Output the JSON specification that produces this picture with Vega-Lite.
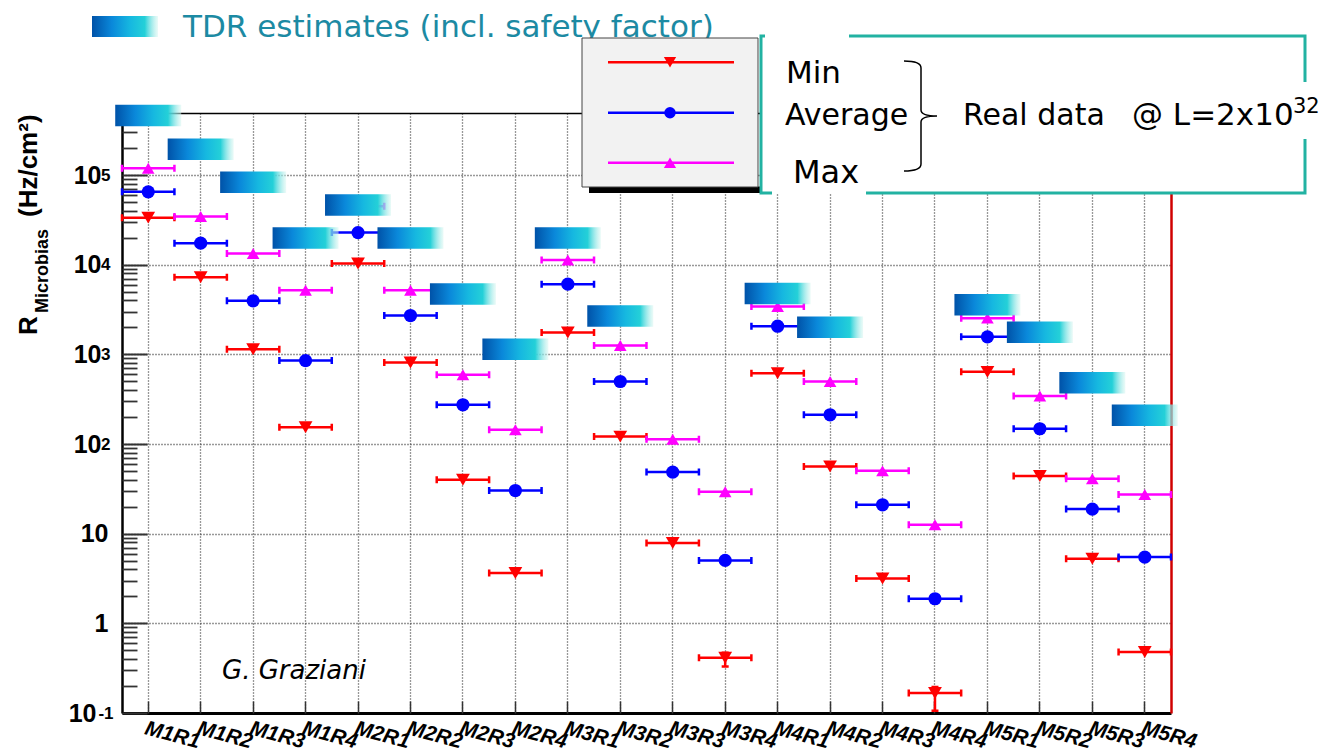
{
  "$schema": "https://vega.github.io/schema/vega-lite/v6.json",
  "usermeta": {"embedOptions": {"actions": false}},
  "width": 1049,
  "height": 600,
  "autosize": {"type": "none"},
  "padding": {"left": 122, "top": 113, "right": 151, "bottom": 43},
  "background": "white",
  "config": {
    "view": {"stroke": null},
    "axis": {
      "title": null,
      "labelFont": "Liberation Sans",
      "labelFontWeight": "bold",
      "labelColor": "black",
      "labelOverlap": false,
      "labelLimit": 0,
      "domainColor": "black",
      "tickColor": "#333333",
      "gridColor": "#333333",
      "gridDash": [1, 2],
      "gridWidth": 1.3,
      "zindex": 0
    }
  },
  "datasets": {
    "rates": [
      {"ch": "M1R1", "stat": "Min", "rate": 33500}, {"ch": "M1R1", "stat": "Average", "rate": 65000}, {"ch": "M1R1", "stat": "Max", "rate": 119000},
      {"ch": "M1R2", "stat": "Min", "rate": 7260}, {"ch": "M1R2", "stat": "Average", "rate": 17400}, {"ch": "M1R2", "stat": "Max", "rate": 34400},
      {"ch": "M1R3", "stat": "Min", "rate": 1140}, {"ch": "M1R3", "stat": "Average", "rate": 3950}, {"ch": "M1R3", "stat": "Max", "rate": 13300},
      {"ch": "M1R4", "stat": "Min", "rate": 154}, {"ch": "M1R4", "stat": "Average", "rate": 853}, {"ch": "M1R4", "stat": "Max", "rate": 5200},
      {"ch": "M2R1", "stat": "Min", "rate": 10300}, {"ch": "M2R1", "stat": "Average", "rate": 22800}, {"ch": "M2R1", "stat": "Max", "rate": 45000},
      {"ch": "M2R2", "stat": "Min", "rate": 811}, {"ch": "M2R2", "stat": "Average", "rate": 2710}, {"ch": "M2R2", "stat": "Max", "rate": 5200},
      {"ch": "M2R3", "stat": "Min", "rate": 40}, {"ch": "M2R3", "stat": "Average", "rate": 274}, {"ch": "M2R3", "stat": "Max", "rate": 591},
      {"ch": "M2R4", "stat": "Min", "rate": 3.64}, {"ch": "M2R4", "stat": "Average", "rate": 30.3}, {"ch": "M2R4", "stat": "Max", "rate": 144},
      {"ch": "M3R1", "stat": "Min", "rate": 1750}, {"ch": "M3R1", "stat": "Average", "rate": 6070}, {"ch": "M3R1", "stat": "Max", "rate": 11300},
      {"ch": "M3R2", "stat": "Min", "rate": 121}, {"ch": "M3R2", "stat": "Average", "rate": 498}, {"ch": "M3R2", "stat": "Max", "rate": 1253},
      {"ch": "M3R3", "stat": "Min", "rate": 7.86}, {"ch": "M3R3", "stat": "Average", "rate": 48.6}, {"ch": "M3R3", "stat": "Max", "rate": 113},
      {"ch": "M3R4", "stat": "Min", "rate": 0.414}, {"ch": "M3R4", "stat": "Average", "rate": 5.03}, {"ch": "M3R4", "stat": "Max", "rate": 29.3},
      {"ch": "M4R1", "stat": "Min", "rate": 617}, {"ch": "M4R1", "stat": "Average", "rate": 2060}, {"ch": "M4R1", "stat": "Max", "rate": 3410},
      {"ch": "M4R2", "stat": "Min", "rate": 56.1}, {"ch": "M4R2", "stat": "Average", "rate": 212}, {"ch": "M4R2", "stat": "Max", "rate": 498},
      {"ch": "M4R3", "stat": "Min", "rate": 3.16}, {"ch": "M4R3", "stat": "Average", "rate": 21.0}, {"ch": "M4R3", "stat": "Max", "rate": 50.2},
      {"ch": "M4R4", "stat": "Min", "rate": 0.167}, {"ch": "M4R4", "stat": "Average", "rate": 1.88}, {"ch": "M4R4", "stat": "Max", "rate": 12.6},
      {"ch": "M5R1", "stat": "Min", "rate": 638}, {"ch": "M5R1", "stat": "Average", "rate": 1567}, {"ch": "M5R1", "stat": "Max", "rate": 2535},
      {"ch": "M5R2", "stat": "Min", "rate": 43.9}, {"ch": "M5R2", "stat": "Average", "rate": 148}, {"ch": "M5R2", "stat": "Max", "rate": 344},
      {"ch": "M5R3", "stat": "Min", "rate": 5.25}, {"ch": "M5R3", "stat": "Average", "rate": 18.8}, {"ch": "M5R3", "stat": "Max", "rate": 40.9},
      {"ch": "M5R4", "stat": "Min", "rate": 0.479}, {"ch": "M5R4", "stat": "Average", "rate": 5.48}, {"ch": "M5R4", "stat": "Max", "rate": 27.4}
    ],
    "tdr": [
      {"ch": "M1R1", "tdr": 460000}, {"ch": "M1R2", "tdr": 194000}, {"ch": "M1R3", "tdr": 83000}, {"ch": "M1R4", "tdr": 19800},
      {"ch": "M2R1", "tdr": 46400}, {"ch": "M2R2", "tdr": 19800}, {"ch": "M2R3", "tdr": 4700}, {"ch": "M2R4", "tdr": 1140},
      {"ch": "M3R1", "tdr": 19800}, {"ch": "M3R2", "tdr": 2670},
      {"ch": "M4R1", "tdr": 4760}, {"ch": "M4R2", "tdr": 2010},
      {"ch": "M5R1", "tdr": 3580}, {"ch": "M5R2", "tdr": 1770}, {"ch": "M5R3", "tdr": 483}, {"ch": "M5R4", "tdr": 210}
    ],
    "spread": [
      {"ch": "M3R4", "lo": 0.33, "hi": 0.47},
      {"ch": "M4R4", "lo": 0.106, "hi": 0.195}
    ],
    "one": [{}]
  },
  "resolve": {"axis": {"x": "independent", "y": "independent"}},
  "layer": [
    {
      "data": {"name": "rates"},
      "mark": {"type": "point", "shape": "M-26.2,0H26.2M-26.2,-3.5V3.5M26.2,-3.5V3.5", "size": 4, "filled": false, "strokeWidth": 2.5, "opacity": 1},
      "encoding": {
        "x": {"field": "ch", "type": "nominal",
              "scale": {"type": "band", "paddingInner": 0, "paddingOuter": 0, "domain": ["M1R1","M1R2","M1R3","M1R4","M2R1","M2R2","M2R3","M2R4","M3R1","M3R2","M3R3","M3R4","M4R1","M4R2","M4R3","M4R4","M5R1","M5R2","M5R3","M5R4"]},
              "axis": {"orient": "bottom", "labelAngle": 15, "labelAlign": "left", "labelBaseline": "top", "labelFontSize": 21, "labelFontStyle": "italic", "labelPadding": 4, "labelDx": -4, "ticks": false, "domain": true, "domainWidth": 3, "grid": true}},
        "y": {"field": "rate", "type": "quantitative",
              "scale": {"type": "log", "domain": [0.1, 492000], "nice": false},
              "axis": {"orient": "left", "values": [0.1, 100, 1000, 10000, 100000], "labelExpr": "'10'", "labelFontSize": 25,
                       "labelPadding": {"condition": {"test": "datum.value < 1", "value": 26}, "value": 21},
                       "labelDy": 3, "labelBaseline": "middle", "ticks": false, "domain": true, "domainWidth": 2.5, "grid": true}},
        "color": {"field": "stat", "type": "nominal", "scale": {"domain": ["Min", "Average", "Max"], "range": ["#ff0000", "#0000ff", "#ff00ff"]}, "legend": null}
      }
    },
    {
      "data": {"name": "spread"},
      "mark": {"type": "rule", "color": "#ff0000", "strokeWidth": 2.5},
      "encoding": {
        "x": {"field": "ch", "type": "nominal",
              "scale": {"type": "band", "paddingInner": 0, "paddingOuter": 0, "domain": ["M1R1","M1R2","M1R3","M1R4","M2R1","M2R2","M2R3","M2R4","M3R1","M3R2","M3R3","M3R4","M4R1","M4R2","M4R3","M4R4","M5R1","M5R2","M5R3","M5R4"]},
              "axis": {"orient": "top", "labels": false, "ticks": false, "grid": false, "domain": true, "domainWidth": 1.5}},
        "y": {"field": "lo", "type": "quantitative",
              "scale": {"type": "log", "domain": [0.1, 492000], "nice": false},
              "axis": {"orient": "left", "values": [0.1, 1, 10, 100, 1000, 10000, 100000], "labels": false, "domain": false, "grid": false, "ticks": true, "tickSize": -25, "tickWidth": 2}},
        "y2": {"field": "hi"}
      }
    },
    {
      "data": {"name": "spread"},
      "transform": [{"fold": ["lo", "hi"], "as": ["end", "val"]}],
      "mark": {"type": "point", "shape": "M-3.5,0H3.5", "size": 4, "filled": false, "color": "#ff0000", "strokeWidth": 2.5, "opacity": 1},
      "encoding": {
        "x": {"field": "ch", "type": "nominal",
              "scale": {"type": "band", "paddingInner": 0, "paddingOuter": 0, "domain": ["M1R1","M1R2","M1R3","M1R4","M2R1","M2R2","M2R3","M2R4","M3R1","M3R2","M3R3","M3R4","M4R1","M4R2","M4R3","M4R4","M5R1","M5R2","M5R3","M5R4"]},
              "axis": null},
        "y": {"field": "val", "type": "quantitative",
              "scale": {"type": "log", "domain": [0.1, 492000], "nice": false},
              "axis": {"orient": "left", "values": [0.2,0.3,0.4,0.5,0.6,0.7,0.8,0.9,2,3,4,5,6,7,8,9,20,30,40,50,60,70,80,90,200,300,400,500,600,700,800,900,2000,3000,4000,5000,6000,7000,8000,9000,20000,30000,40000,50000,60000,70000,80000,90000,200000,300000,400000], "labels": false, "domain": false, "grid": false, "ticks": true, "tickSize": -15, "tickWidth": 1.8}}
      }
    },
    {
      "data": {"name": "rates"},
      "mark": {"type": "point", "filled": true, "size": 160, "opacity": 1},
      "encoding": {
        "x": {"field": "ch", "type": "nominal",
              "scale": {"type": "band", "paddingInner": 0, "paddingOuter": 0, "domain": ["M1R1","M1R2","M1R3","M1R4","M2R1","M2R2","M2R3","M2R4","M3R1","M3R2","M3R3","M3R4","M4R1","M4R2","M4R3","M4R4","M5R1","M5R2","M5R3","M5R4"]},
              "axis": {"orient": "bottom", "labels": false, "domain": false, "grid": false, "ticks": true, "tickSize": -12, "tickWidth": 1.5}},
        "y": {"field": "rate", "type": "quantitative",
              "scale": {"type": "log", "domain": [0.1, 492000], "nice": false},
              "axis": {"orient": "left", "values": [1, 10], "labelExpr": "datum.value >= 10 ? '10' : '1'", "labelFontSize": 25, "labelPadding": 14, "labelBaseline": "middle", "ticks": false, "domain": false, "grid": true}},
        "color": {"field": "stat", "type": "nominal", "scale": {"domain": ["Min", "Average", "Max"], "range": ["#ff0000", "#0000ff", "#ff00ff"]}, "legend": null},
        "shape": {"field": "stat", "type": "nominal", "scale": {"domain": ["Min", "Average", "Max"], "range": ["triangle-down", "circle", "triangle-up"]}, "legend": null},
        "size": {"field": "stat", "type": "nominal", "scale": {"domain": ["Min", "Average", "Max"], "range": [190, 160, 190]}, "legend": null}
      }
    },
    {
      "data": {"name": "tdr"},
      "mark": {"type": "point", "shape": "M-33,-10.75H33V10.75H-33Z", "size": 4, "filled": true, "opacity": 1, "strokeWidth": 0,
               "fill": {"gradient": "linear", "x1": 0, "y1": 0, "x2": 1, "y2": 0, "stops": [
                 {"offset": 0, "color": "#0052a8"}, {"offset": 0.3, "color": "#0a88da"}, {"offset": 0.58, "color": "#16b8e0"},
                 {"offset": 0.8, "color": "#24d0d8"}, {"offset": 1, "color": "rgba(215,246,240,0.5)"}]}},
      "encoding": {
        "x": {"field": "ch", "type": "nominal",
              "scale": {"type": "band", "paddingInner": 0, "paddingOuter": 0, "domain": ["M1R1","M1R2","M1R3","M1R4","M2R1","M2R2","M2R3","M2R4","M3R1","M3R2","M3R3","M3R4","M4R1","M4R2","M4R3","M4R4","M5R1","M5R2","M5R3","M5R4"]},
              "axis": null},
        "y": {"field": "tdr", "type": "quantitative",
              "scale": {"type": "log", "domain": [0.1, 492000], "nice": false},
              "axis": {"orient": "left", "values": [0.1, 100, 1000, 10000, 100000], "labelExpr": "datum.value < 1 ? '-1' : '' + round(log(datum.value) / LN10)", "labelFontSize": 17,
                       "labelPadding": {"condition": {"test": "datum.value < 1", "value": 9}, "value": 12},
                       "labelDy": -6, "labelBaseline": "middle", "ticks": false, "domain": false, "grid": false}}
      }
    },
    {
      "data": {"name": "rates"},
      "mark": {"type": "point", "opacity": 0},
      "encoding": {
        "x": {"field": "ch", "type": "nominal",
              "scale": {"type": "band", "paddingInner": 0, "paddingOuter": 0, "domain": ["M1R1","M1R2","M1R3","M1R4","M2R1","M2R2","M2R3","M2R4","M3R1","M3R2","M3R3","M3R4","M4R1","M4R2","M4R3","M4R4","M5R1","M5R2","M5R3","M5R4"]},
              "axis": null},
        "y": {"field": "rate", "type": "quantitative",
              "scale": {"type": "log", "domain": [0.1, 492000], "nice": false},
              "axis": {"orient": "right", "labels": false, "ticks": false, "grid": false, "domain": true, "domainColor": "#d00000", "domainWidth": 2.5}}
      }
    },
    {
      "data": {"name": "one"},
      "mark": {"type": "point", "shape": "M-33,-10.5H33V10.5H-33Z", "size": 4, "filled": true, "opacity": 1, "strokeWidth": 0,
               "fill": {"gradient": "linear", "x1": 0, "y1": 0, "x2": 1, "y2": 0, "stops": [
                 {"offset": 0, "color": "#0052a8"}, {"offset": 0.3, "color": "#0a88da"}, {"offset": 0.58, "color": "#16b8e0"},
                 {"offset": 0.8, "color": "#24d0d8"}, {"offset": 1, "color": "rgba(215,246,240,0.5)"}]}},
      "encoding": {"x": {"value": 3}, "y": {"value": -86.5}}
    },
    {
      "data": {"name": "one"},
      "mark": {"type": "text", "text": "TDR estimates (incl. safety factor)", "font": "DejaVu Sans", "fontSize": 31, "color": "#1c8aa3", "align": "left", "baseline": "alphabetic"},
      "encoding": {"x": {"value": 61}, "y": {"value": -76}}
    },
    {
      "data": {"name": "one"},
      "mark": {"type": "point", "shape": "M-81,74H91V80.5H-81Z", "size": 4, "filled": true, "fill": "black", "opacity": 1, "strokeWidth": 0},
      "encoding": {"x": {"value": 548}, "y": {"value": -0.5}}
    },
    {
      "data": {"name": "one"},
      "mark": {"type": "point", "shape": "M-88,-74.5H88V74.5H-88Z", "size": 4, "filled": true, "fill": "#f2f2f2", "stroke": "#444444", "strokeWidth": 1, "opacity": 1},
      "encoding": {"x": {"value": 548}, "y": {"value": -0.5}}
    },
    {
      "data": {"name": "one"},
      "mark": {"type": "point", "shape": "M-63,0H63", "size": 4, "filled": false, "color": "#ff0000", "strokeWidth": 2.5, "opacity": 1},
      "encoding": {"x": {"value": 549}, "y": {"value": -50.7}}
    },
    {
      "data": {"name": "one"},
      "mark": {"type": "point", "shape": "M-63,0H63", "size": 4, "filled": false, "color": "#0000ff", "strokeWidth": 2.5, "opacity": 1},
      "encoding": {"x": {"value": 549}, "y": {"value": -0.3}}
    },
    {
      "data": {"name": "one"},
      "mark": {"type": "point", "shape": "M-63,0H63", "size": 4, "filled": false, "color": "#ff00ff", "strokeWidth": 2.5, "opacity": 1},
      "encoding": {"x": {"value": 549}, "y": {"value": 49.7}}
    },
    {
      "data": {"name": "one"},
      "mark": {"type": "point", "shape": "triangle-down", "size": 150, "filled": true, "color": "#ff0000", "opacity": 1},
      "encoding": {"x": {"value": 548}, "y": {"value": -50.7}}
    },
    {
      "data": {"name": "one"},
      "mark": {"type": "point", "shape": "circle", "size": 130, "filled": true, "color": "#0000ff", "opacity": 1},
      "encoding": {"x": {"value": 548}, "y": {"value": -0.3}}
    },
    {
      "data": {"name": "one"},
      "mark": {"type": "point", "shape": "triangle-up", "size": 150, "filled": true, "color": "#ff00ff", "opacity": 1},
      "encoding": {"x": {"value": 548}, "y": {"value": 49.7}}
    },
    {
      "data": {"name": "one"},
      "mark": {"type": "point", "shape": "M0,0H544V157H0Z", "size": 4, "filled": true, "fill": "white", "strokeWidth": 0, "opacity": 1},
      "encoding": {"x": {"value": 639}, "y": {"value": -77}}
    },
    {
      "data": {"name": "one"},
      "mark": {"type": "point", "shape": "M4,0H0V157H11M88,0H544V46M105,157H544V103", "size": 4, "filled": false, "color": "#22b2a2", "strokeWidth": 3, "opacity": 1},
      "encoding": {"x": {"value": 639}, "y": {"value": -77}}
    },
    {
      "data": {"name": "one"},
      "mark": {"type": "point", "shape": "M-17,-55Q0,-55 0,-48V-6Q0,0 16,0Q0,0 0,6V48Q0,55 -17,55", "size": 4, "filled": false, "color": "black", "strokeWidth": 1.5, "opacity": 1},
      "encoding": {"x": {"value": 799}, "y": {"value": 3}}
    },
    {
      "data": {"name": "one"},
      "mark": {"type": "text", "text": "Min", "font": "DejaVu Sans", "fontSize": 31, "color": "black", "align": "left", "baseline": "alphabetic"},
      "encoding": {"x": {"value": 664}, "y": {"value": -30}}
    },
    {
      "data": {"name": "one"},
      "mark": {"type": "text", "text": "Average", "font": "DejaVu Sans", "fontSize": 30, "color": "black", "align": "left", "baseline": "alphabetic"},
      "encoding": {"x": {"value": 663}, "y": {"value": 12}}
    },
    {
      "data": {"name": "one"},
      "mark": {"type": "text", "text": "Max", "font": "DejaVu Sans", "fontSize": 32, "color": "black", "align": "left", "baseline": "alphabetic"},
      "encoding": {"x": {"value": 671}, "y": {"value": 70}}
    },
    {
      "data": {"name": "one"},
      "mark": {"type": "text", "text": "Real data", "font": "DejaVu Sans", "fontSize": 30, "color": "black", "align": "left", "baseline": "alphabetic"},
      "encoding": {"x": {"value": 841}, "y": {"value": 12}}
    },
    {
      "data": {"name": "one"},
      "mark": {"type": "text", "text": "@ L=2x10", "font": "DejaVu Sans", "fontSize": 31, "color": "black", "align": "left", "baseline": "alphabetic"},
      "encoding": {"x": {"value": 1010}, "y": {"value": 12}}
    },
    {
      "data": {"name": "one"},
      "mark": {"type": "text", "text": "32", "font": "DejaVu Sans", "fontSize": 21, "color": "black", "align": "left", "baseline": "alphabetic"},
      "encoding": {"x": {"value": 1171}, "y": {"value": 0}}
    },
    {
      "data": {"name": "one"},
      "mark": {"type": "text", "text": "G. Graziani", "font": "DejaVu Sans", "fontSize": 26, "fontStyle": "italic", "color": "black", "align": "left", "baseline": "alphabetic"},
      "encoding": {"x": {"value": 100}, "y": {"value": 566}}
    },
    {
      "data": {"name": "one"},
      "mark": {"type": "text", "text": "R", "font": "Liberation Sans", "fontWeight": "bold", "fontSize": 26, "color": "black", "angle": 270, "align": "left", "baseline": "alphabetic"},
      "encoding": {"x": {"value": -85}, "y": {"value": 222}}
    },
    {
      "data": {"name": "one"},
      "mark": {"type": "text", "text": "Microbias", "font": "Liberation Sans", "fontWeight": "bold", "fontSize": 18, "color": "black", "angle": 270, "align": "left", "baseline": "alphabetic"},
      "encoding": {"x": {"value": -74}, "y": {"value": 200}}
    },
    {
      "data": {"name": "one"},
      "mark": {"type": "text", "text": "(Hz/cm²)", "font": "Liberation Sans", "fontWeight": "bold", "fontSize": 26, "color": "black", "angle": 270, "align": "left", "baseline": "alphabetic"},
      "encoding": {"x": {"value": -85}, "y": {"value": 104}}
    }
  ]
}
